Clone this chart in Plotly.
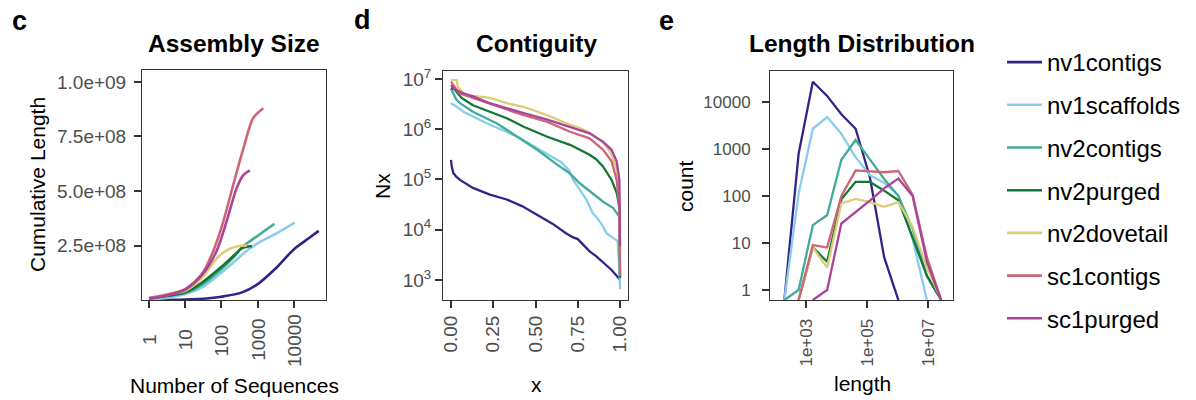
import math
import plotly.graph_objects as go

W, H = 1196, 400
PAGE_OFFSET = 8  # default body margin of the html page
FONT = "Liberation Sans, Arial, Helvetica, sans-serif"
TICK_COLOR = "#4D4D4D"
BORDER = "#333333"

SERIES = ["nv1contigs", "nv1scaffolds", "nv2contigs", "nv2purged",
          "nv2dovetail", "sc1contigs", "sc1purged"]
COLORS = ["#332288", "#88CCEE", "#44AA99", "#117733",
          "#DDCC77", "#CC6677", "#AA4499"]

# ---------- panel c : cumulative length vs number of sequences ----------
C_N = {
    "nv1contigs":   [1, 10, 45, 100, 370, 1000, 3000, 10000, 25000, 48000],
    "nv1scaffolds": [1, 3, 10, 29, 100, 240, 560, 1300, 3000, 10500],
    "nv2contigs":   [1, 3, 10, 30, 100, 240, 370, 1000, 2900],
    "nv2purged":    [1, 3, 10, 29, 100, 240, 370, 690],
    "nv2dovetail":  [1, 3, 10, 29, 83, 160, 300, 500],
    "sc1contigs":   [1, 3, 10, 29, 59, 112, 210, 400, 750, 1420],
    "sc1purged":    [1, 3, 10, 29, 73, 138, 260, 400, 610],
}
C_LEN = {
    "nv1contigs":   [0.25e6, 2e6, 8e6, 15e6, 35e6, 73e6, 142e6, 233e6, 282e6, 317e6],
    "nv1scaffolds": [3.3e6, 9e6, 27e6, 58e6, 126e6, 180e6, 233e6, 271e6, 302e6, 355e6],
    "nv2contigs":   [6.5e6, 18e6, 33e6, 72e6, 142e6, 205e6, 242e6, 295e6, 350e6],
    "nv2purged":    [6.5e6, 18e6, 35e6, 80e6, 152e6, 210e6, 238e6, 248e6],
    "nv2dovetail":  [9.5e6, 25e6, 42e6, 103e6, 200e6, 233e6, 248e6, 250e6],
    "sc1contigs":   [9e6, 24e6, 50e6, 120e6, 224e6, 360e6, 527e6, 694e6, 835e6, 880e6],
    "sc1purged":    [7.6e6, 20e6, 48e6, 115e6, 224e6, 360e6, 512e6, 573e6, 595e6],
}
C_XTICKS = [1, 10, 100, 1000, 10000]
C_XTICKTEXT = ["1", "10", "100", "1000", "10000"]
C_YTICKS = [2.5e8, 5.0e8, 7.5e8, 1.0e9]
C_YTICKTEXT = ["2.5e+08", "5.0e+08", "7.5e+08", "1.0e+09"]

# ---------- panel d : Nx curves ----------
D_X = {
    "nv1contigs":   [0, 0.005, 0.014, 0.03, 0.053, 0.13, 0.23, 0.33, 0.42, 0.51, 0.6,
                     0.68, 0.72, 0.75, 0.82, 0.86, 0.90, 0.95, 0.99, 1.0],
    "nv1scaffolds": [0, 0.01, 0.034, 0.073, 0.13, 0.23, 0.33, 0.41, 0.51, 0.6, 0.65, 0.70,
                     0.72, 0.75, 0.78, 0.80, 0.84, 0.86, 0.90, 0.92, 0.96, 0.985, 0.995, 1.0],
    "nv2contigs":   [0, 0.01, 0.03, 0.053, 0.13, 0.19, 0.27, 0.39, 0.51, 0.63, 0.70,
                     0.76, 0.82, 0.90, 0.96, 0.996, 1.0],
    "nv2purged":    [0, 0.02, 0.04, 0.063, 0.13, 0.23, 0.33, 0.43, 0.57, 0.704, 0.76,
                     0.82, 0.86, 0.90, 0.95, 0.98, 0.996, 1.0],
    "nv2dovetail":  [0, 0.034, 0.04, 0.083, 0.13, 0.23, 0.33, 0.43, 0.57, 0.704, 0.76,
                     0.82, 0.90, 0.95, 0.98, 0.995, 1.0],
    "sc1contigs":   [0, 0.02, 0.05, 0.13, 0.23, 0.33, 0.43, 0.57, 0.704, 0.82, 0.90,
                     0.95, 0.98, 0.996, 1.0],
    "sc1purged":    [0, 0.02, 0.073, 0.13, 0.23, 0.33, 0.43, 0.57, 0.704, 0.82, 0.90,
                     0.95, 0.98, 0.996, 1.0],
}
D_NX = {
    "nv1contigs":   [2.45e5, 1.78e5, 1.35e5, 1.15e5, 9.8e4, 6.8e4, 5.0e4, 4.0e4, 2.95e4,
                     2.0e4, 1.32e4, 8.5e3, 7.1e3, 6.5e3, 3.7e3, 2.95e3, 2.2e3, 1.58e3,
                     1.1e3, 1.0e3],
    "nv1scaffolds": [3.3e6, 3.16e6, 2.8e6, 2.24e6, 1.78e6, 1.23e6, 8.9e5, 6.6e5, 4.2e5,
                     2.8e5, 2.24e5, 1.5e5, 1.0e5, 7.2e4, 5.0e4, 4.0e4, 2.1e4, 1.8e4,
                     1.15e4, 8.5e3, 6.8e3, 6.0e3, 2.2e3, 650],
    "nv2contigs":   [6.5e6, 5.6e6, 4.0e6, 3.3e6, 2.24e6, 1.78e6, 1.32e6, 7.2e5, 3.9e5,
                     1.95e5, 1.35e5, 8.5e4, 5.8e4, 3.6e4, 2.7e4, 1.8e4, 1.1e3],
    "nv2purged":    [6.5e6, 6.3e6, 5.2e6, 4.2e6, 3.0e6, 2.24e6, 1.66e6, 1.12e6, 7.1e5,
                     4.9e5, 4.0e5, 3.1e5, 2.5e5, 1.8e5, 9.8e4, 5.4e4, 2.8e4, 1.1e3],
    "nv2dovetail":  [9.5e6, 9.5e6, 7.1e6, 4.8e6, 4.6e6, 4.2e6, 3.3e6, 2.8e6, 1.9e6,
                     1.23e6, 1.07e6, 8.5e5, 5.5e5, 3.2e5, 1.6e5, 4.0e4, 3.2e3],
    "sc1contigs":   [8.9e6, 7.1e6, 5.2e6, 4.2e6, 3.2e6, 2.5e6, 1.9e6, 1.4e6, 8.9e5,
                     6.6e5, 3.9e5, 2.3e5, 9.8e4, 2.5e4, 1.2e3],
    "sc1purged":    [7.6e6, 6.3e6, 5.2e6, 4.5e6, 3.3e6, 2.6e6, 2.1e6, 1.55e6, 1.12e6,
                     8.3e5, 5.6e5, 3.9e5, 2.3e5, 9.8e4, 4.7e3],
}
D_XTICKS = [0, 0.25, 0.5, 0.75, 1.0]
D_XTICKTEXT = ["0.00", "0.25", "0.50", "0.75", "1.00"]
D_YTICKS = [1e3, 1e4, 1e5, 1e6, 1e7]
D_YTICKTEXT = ["10<sup>3</sup>", "10<sup>4</sup>", "10<sup>5</sup>",
               "10<sup>6</sup>", "10<sup>7</sup>"]

# ---------- panel e : length distribution (frequency polygons) ----------
E_BIN_LENGTHS = [195, 573, 1679, 4932, 14454, 42364, 124451, 364754,
                 1069000, 3140000, 9204000, 26980000]
E_COUNTS = {
    "nv1contigs":   [0, 790, 27000, 13500, 5500, 2700, 250, 5, 0, None, None, None],
    "nv1scaffolds": [0, 112, 2700, 4800, 2100, 670, 280, 190, 105, 12, 0, None],
    "nv2contigs":   [0, 1, 24, 39, 590, 1550, 600, 230, 100, 20, 2, 0],
    "nv2purged":    [None, 0, 8, 4, 85, 200, 200, 130, 81, 13, 2, 0],
    "nv2dovetail":  [None, 0, 8, 3, 70, 87, 74, 59, 74, 22, 3, 0],
    "sc1contigs":   [None, 0, 9, 8, 100, 350, 340, 320, 340, 105, 5, 0],
    "sc1purged":    [None, None, 0, 1, 26, 45, 80, 145, 235, 100, 4, 0],
}
E_XTICKS = [1e3, 1e5, 1e7]
E_XTICKTEXT = ["1e+03", "1e+05", "1e+07"]
E_YTICKS = [1, 10, 100, 1000, 10000]
E_YTICKTEXT = ["1", "10", "100", "1000", "10000"]

# ---------- layout geometry (window pixels -> paper) ----------
def px_x(p):
    return (p - PAGE_OFFSET) / W

def px_y(p):
    return 1 - (p - PAGE_OFFSET) / H

C_RANGE_X = [-0.193, 4.883]
C_RANGE_Y = [0, 1.055e9]
D_RANGE_X = [-0.047, 1.047]
D_RANGE_Y = [2.6, 7.16]
E_RANGE_X = [1.82, 7.82]
E_RANGE_Y = [-0.213, 4.66]
E_FLOOR = 10 ** E_RANGE_Y[0]  # zero counts sit on the axis floor (like -Inf in ggplot)

fig = go.Figure()
LW = 2.6
for i, s in enumerate(SERIES):
    col = COLORS[i]
    fig.add_trace(go.Scatter(
        x=C_N[s], y=C_LEN[s], mode="lines", name=s, legendgroup=s,
        line=dict(color=col, width=LW, shape="spline", smoothing=0.8),
        xaxis="x", yaxis="y", showlegend=True))
    fig.add_trace(go.Scatter(
        x=D_X[s], y=D_NX[s], mode="lines", name=s, legendgroup=s,
        line=dict(color=col, width=LW - 0.3),
        xaxis="x2", yaxis="y2", showlegend=False))
    ey = [None if c is None else (E_FLOOR if c == 0 else c) for c in E_COUNTS[s]]
    fig.add_trace(go.Scatter(
        x=E_BIN_LENGTHS, y=ey, mode="lines", name=s, legendgroup=s,
        line=dict(color=col, width=LW - 0.3),
        xaxis="x3", yaxis="y3", showlegend=False))

axis_common = dict(showgrid=False, zeroline=False, showline=True, mirror=True,
                   linecolor=BORDER, linewidth=1, ticks="outside", ticklen=7,
                   tickwidth=1.5, tickcolor=BORDER, automargin=False,
                   tickfont=dict(family=FONT, size=19, color=TICK_COLOR))

fig.update_layout(
    width=W, height=H, autosize=False,
    margin=dict(l=0, r=0, t=0, b=0, autoexpand=False),
    paper_bgcolor="white", plot_bgcolor="white",
    font=dict(family=FONT, color="black"),
    xaxis=dict(axis_common, domain=[px_x(142), px_x(326)], type="log",
               range=C_RANGE_X, tickmode="array", tickvals=C_XTICKS,
               showticklabels=False),
    yaxis=dict(axis_common, domain=[px_y(300), px_y(70)], range=C_RANGE_Y,
               tickmode="array", tickvals=C_YTICKS, ticktext=C_YTICKTEXT,
               ticklabelstandoff=4),
    xaxis2=dict(axis_common, domain=[px_x(443), px_x(628)], range=D_RANGE_X,
                tickmode="array", tickvals=D_XTICKS, ticktext=D_XTICKTEXT,
                tickangle=-90, anchor="y2"),
    yaxis2=dict(axis_common, domain=[px_y(300), px_y(71)], type="log",
                range=D_RANGE_Y, tickmode="array", tickvals=D_YTICKS,
                ticktext=D_YTICKTEXT, anchor="x2"),
    xaxis3=dict(axis_common, domain=[px_x(770), px_x(953)], type="log",
                range=E_RANGE_X, tickmode="array", tickvals=E_XTICKS,
                ticktext=E_XTICKTEXT, tickangle=-90, anchor="y3",
                tickfont=dict(family=FONT, size=17, color=TICK_COLOR),
                ticklabelstandoff=4),
    yaxis3=dict(axis_common, domain=[px_y(300), px_y(71)], type="log",
                range=E_RANGE_Y, tickmode="array", tickvals=E_YTICKS,
                ticktext=E_YTICKTEXT, anchor="x3",
                tickfont=dict(family=FONT, size=17, color=TICK_COLOR),
                ticklabelstandoff=8),
    legend=dict(x=px_x(1002), y=px_y(40), xanchor="left", yanchor="top",
                font=dict(family=FONT, size=24, color="black"),
                tracegroupgap=8.5, itemwidth=35, bgcolor="rgba(0,0,0,0)"),
    showlegend=True,
)

ann = []
def add_text(text, x, y, size, bold=False, angle=0, color="black",
             xref="paper", yref="paper"):
    ann.append(dict(text=("<b>%s</b>" % text) if bold else text, x=x, y=y,
                    xref=xref, yref=yref, showarrow=False, textangle=angle,
                    xanchor="center", yanchor="middle",
                    font=dict(family=FONT, size=size, color=color)))

# panel letters
add_text("c", px_x(19), px_y(21), 27, bold=True)
add_text("d", px_x(362), px_y(20), 27, bold=True)
add_text("e", px_x(666), px_y(21), 27, bold=True)
# titles
add_text("Assembly Size", px_x(234), px_y(44), 24.5, bold=True)
add_text("Contiguity", px_x(536), px_y(44), 24.5, bold=True)
add_text("Length Distribution", px_x(862), px_y(44), 24.5, bold=True)
# axis titles
add_text("Cumulative Length", px_x(37), px_y(185), 21, angle=-90)
add_text("Number of Sequences", px_x(234), px_y(385), 21)
add_text("Nx", px_x(382), px_y(186), 21, angle=-90)
add_text("x", px_x(536), px_y(384), 21)
add_text("count", px_x(685), px_y(186), 21, angle=-90)
add_text("length", px_x(862), px_y(383), 21)
# panel c rotated, centred tick labels
for v, t in zip(C_XTICKS, C_XTICKTEXT):
    add_text(t, math.log10(v), px_y(340), 19, angle=-90, color=TICK_COLOR,
             xref="x", yref="paper")

fig.update_layout(annotations=ann)
fig.write_html("out.html")
